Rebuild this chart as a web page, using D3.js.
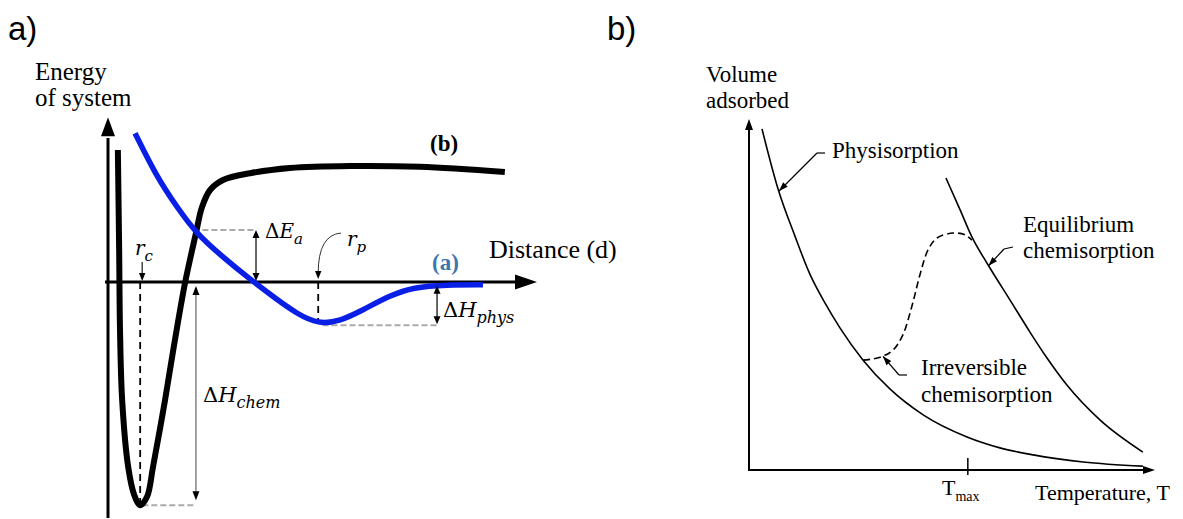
<!DOCTYPE html>
<html>
<head>
<meta charset="utf-8">
<script src="https://cdn.jsdelivr.net/npm/d3@7"></script>
<style>
  html, body { margin: 0; padding: 0; background: #fff; }
  svg { display: block; }
</style>
</head>
<body>
<svg id="chart" width="1183" height="519"></svg>
<script>
// ---------- Panel a: potential energy against distance ----------
// (b) chemisorption well
const chemDistance = [0.23, 0.26, 0.28, 0.33, 0.47, 0.61, 0.75, 0.91, 1.05, 1.33, 1.56, 1.80, 2.05, 2.19, 2.38, 2.68, 3.31, 4.24, 5.64, 7.27, 9.25];
const chemEnergy   = [3.30, 0.80, -1.20, -2.95, -4.62, -5.32, -5.58, -5.37, -4.62, -2.95, -1.45, 0.00, 1.22, 1.87, 2.30, 2.55, 2.72, 2.85, 2.90, 2.88, 2.75];
// (a) physisorption well
const physDistance = [0.63, 1.14, 1.61, 2.05, 2.68, 3.31, 3.89, 4.41, 4.90, 5.41, 5.94, 6.57, 7.11, 7.90, 8.74];
const physEnergy   = [3.72, 2.62, 1.87, 1.22, 0.62, 0.07, -0.40, -0.80, -1.05, -0.98, -0.70, -0.34, -0.13, -0.07, -0.07];
// characteristic points
const rC = 0.75, hChem = -5.58;          // chemisorption minimum
const rP = 4.90, hPhys = -1.08;          // physisorption minimum
const eA = 1.30;                         // activation level at the crossing
const eAarrowD = 3.45, hChemArrowD = 2.05, hPhysArrowD = 7.67, physTail = -0.07;

// ---------- Panel b: volume adsorbed against temperature ----------
const physT = [0.32, 0.71, 1.13, 1.50, 1.87, 2.24, 2.81, 3.47, 4.29, 5.37, 6.18, 7.00, 8.23, 9.70];
const physV = [9.72, 8.03, 6.67, 5.58, 4.76, 4.05, 3.13, 2.31, 1.57, 0.94, 0.63, 0.43, 0.23, 0.11];
const eqT   = [4.85, 5.20, 5.49, 5.89, 6.43, 6.92, 7.34, 7.83, 8.65, 9.70];
const eqV   = [8.32, 7.41, 6.64, 5.84, 4.84, 3.93, 3.19, 2.42, 1.42, 0.51];
const irrT  = [2.81, 3.23, 3.55, 3.79, 4.02, 4.21, 4.41, 4.63, 5.03, 5.32, 5.49];
const irrV  = [3.13, 3.21, 3.42, 3.85, 4.70, 5.56, 6.27, 6.61, 6.75, 6.70, 6.55];
const tMax = 5.39;

const svg = d3.select("#chart");
svg.append("rect").attr("width", 1183).attr("height", 519).attr("fill", "#fff");

const SERIF = "'Liberation Serif', 'Times New Roman', serif";
const MATH = "'DejaVu Serif', serif";
const SANS = "'Liberation Sans', Arial, sans-serif";

// filled triangular arrow head with its tip at `tip`, pointing away from `from`
function arrowHead(g, tip, from, len, hw, fill) {
  const dx = tip[0] - from[0], dy = tip[1] - from[1];
  const L = Math.hypot(dx, dy), ux = dx / L, uy = dy / L;
  const bx = tip[0] - ux * len, by = tip[1] - uy * len;
  const px = -uy, py = ux;
  g.append("path")
    .attr("d", `M${tip[0]},${tip[1]}L${bx + px * hw},${by + py * hw}L${bx - px * hw},${by - py * hw}Z`)
    .attr("fill", fill || "#000");
}

function segment(g, a, b, stroke, width, dash) {
  const s = g.append("line")
    .attr("x1", a[0]).attr("y1", a[1]).attr("x2", b[0]).attr("y2", b[1])
    .attr("stroke", stroke).attr("stroke-width", width);
  if (dash) s.attr("stroke-dasharray", dash);
  return s;
}

// text with a lowered subscript; parts: [text, italic?, sub?]
function mathText(g, x, y, parts, size, subSize, family) {
  const t = g.append("text").attr("x", x).attr("y", y)
    .attr("font-family", family || MATH).attr("font-size", size).attr("fill", "#000");
  let lowered = false;
  parts.forEach(([str, italic, sub]) => {
    const ts = t.append("tspan").text(str)
      .attr("font-style", italic ? "italic" : "normal");
    if (sub) {
      ts.attr("font-size", subSize);
      if (!lowered) { ts.attr("dy", size * 0.28); lowered = true; }
    }
  });
  return t;
}

function label(g, x, y, str, size, extra) {
  const t = g.append("text").attr("x", x).attr("y", y)
    .attr("font-family", SERIF).attr("font-size", size).text(str);
  if (extra) extra(t);
  return t;
}

// ================= Panel a =================
const gA = svg.append("g");
const xA = d3.scaleLinear().domain([0, 10]).range([108, 537]);
const yA = d3.scaleLinear().domain([-6, 4]).range([522, 122]);

gA.append("text").attr("x", 8).attr("y", 40)
  .attr("font-family", SANS).attr("font-size", 33).text("a)");
label(gA, 35, 80, "Energy", 25);
label(gA, 35, 106, "of system", 25);

// axes
segment(gA, [xA(0), yA(-5.9)], [xA(0), yA(3.6)], "#000", 3);
arrowHead(gA, [xA(0), yA(4.12)], [xA(0), yA(0)], 19, 7);
segment(gA, [xA(-0.07), yA(0)], [xA(9.6), yA(0)], "#000", 3);
arrowHead(gA, [xA(10), yA(0)], [xA(0), yA(0)], 22, 7.5);
label(gA, 489, 258, "Distance (d)", 26);

// helper lines behind the curves
segment(gA, [xA(2.2), yA(eA)], [xA(eAarrowD - 0.05), yA(eA)], "#aaa", 2, "6,3");
segment(gA, [xA(rC + 0.05), yA(hChem)], [xA(hChemArrowD - 0.05), yA(hChem)], "#aaa", 2, "6,3");
segment(gA, [xA(rP + 0.1), yA(hPhys)], [xA(hPhysArrowD), yA(hPhys)], "#aaa", 2, "6,3");
segment(gA, [xA(rC), yA(0)], [xA(rC), yA(hChem) - 3], "#000", 1.8, "7,5");
segment(gA, [xA(rP), yA(0)], [xA(rP), yA(hPhys) - 3], "#000", 1.8, "7,5");

const chemLine = d3.line().curve(d3.curveCatmullRom.alpha(0.5));
const smoothLine = d3.line().curve(d3.curveMonotoneX);
gA.append("path")
  .attr("d", chemLine(chemDistance.map((d, i) => [xA(d), yA(chemEnergy[i])])))
  .attr("fill", "none").attr("stroke", "#000").attr("stroke-width", 6)
  .attr("stroke-linejoin", "round");
gA.append("path")
  .attr("d", d3.line().curve(d3.curveBasis)(physDistance.map((d, i) => [xA(d), yA(physEnergy[i])])))
  .attr("fill", "none").attr("stroke", "#0a1fe6").attr("stroke-width", 5.5)
  .attr("stroke-linejoin", "round");

// ΔE_a double arrow
{
  const x = xA(eAarrowD), top = yA(eA), bot = yA(0) - 1;
  segment(gA, [x, top + 6], [x, bot - 6], "#000", 1.2);
  arrowHead(gA, [x, top], [x, bot], 8, 3.5);
  arrowHead(gA, [x, bot], [x, top], 8, 3.5);
  mathText(gA, 265, 238, [["Δ", false], ["E", true], ["a", true, true]], 20, 15);
}
// ΔH_chem double arrow
{
  const x = xA(hChemArrowD), top = yA(0) + 4, bot = yA(hChem) - 5;
  segment(gA, [x, top + 6], [x, bot - 6], "#444", 1);
  arrowHead(gA, [x, top], [x, bot], 9, 3.5);
  arrowHead(gA, [x, bot], [x, top], 9, 3.5);
  mathText(gA, 203, 402, [["Δ", false], ["H", true], ["chem", true, true]], 21, 16);
}
// ΔH_phys double arrow
{
  const x = xA(hPhysArrowD), top = yA(physTail) + 1, bot = yA(hPhys) - 1;
  segment(gA, [x, top + 6], [x, bot - 6], "#000", 1.2);
  arrowHead(gA, [x, top], [x, bot], 8, 3.5);
  arrowHead(gA, [x, bot], [x, top], 8, 3.5);
  mathText(gA, 443, 317, [["Δ", false], ["H", true], ["phys", true, true]], 21, 16);
}
// r_c marker
{
  const x = xA(rC) + 2;
  segment(gA, [x, 262], [x, yA(0) - 7], "#000", 1.1);
  arrowHead(gA, [x, yA(0) - 1], [x, 262], 8, 3.2);
  mathText(gA, 135, 255, [["r", true], ["c", true, true]], 20, 15);
}
// r_p marker with curved leader
{
  const x = xA(rP), tipY = yA(0) - 3;
  const p = d3.path();
  p.moveTo(341, 233);
  p.quadraticCurveTo(x, 235, x, tipY - 6);
  gA.append("path").attr("d", p.toString()).attr("fill", "none")
    .attr("stroke", "#333").attr("stroke-width", 1);
  arrowHead(gA, [x, tipY], [x, tipY - 10], 8, 3.2);
  mathText(gA, 347, 246, [["r", true], ["p", true, true]], 20, 15);
}
label(gA, 430, 151, "(b)", 23, t => t.attr("font-weight", "bold"));
label(gA, 432, 270, "(a)", 23, t => t.attr("font-weight", "bold").attr("fill", "#3b76ae"));

// ================= Panel b =================
const gB = svg.append("g");
const xB = d3.scaleLinear().domain([0, 10]).range([749, 1155]);
const yB = d3.scaleLinear().domain([0, 10]).range([470, 119]);

gB.append("text").attr("x", 607).attr("y", 40)
  .attr("font-family", SANS).attr("font-size", 33).text("b)");
label(gB, 706, 82, "Volume", 23);
label(gB, 706, 108, "adsorbed", 23);

// axes
segment(gB, [xB(0), yB(0)], [xB(0), yB(9.75)], "#000", 2);
arrowHead(gB, [xB(0), yB(10)], [xB(0), yB(0)], 11, 4);
segment(gB, [xB(0) - 1, yB(0)], [xB(9.75), yB(0)], "#000", 2);
arrowHead(gB, [xB(10), yB(0)], [xB(0), yB(0)], 12, 4);
// T_max tick
segment(gB, [xB(tMax), yB(0) - 12], [xB(tMax), yB(0) + 5], "#000", 1.5);
mathText(gB, 942, 495, [["T", false], ["max", false, true]], 22, 14, SERIF);
label(gB, 1035, 500, "Temperature, T", 22);

gB.append("path")
  .attr("d", smoothLine(physT.map((t, i) => [xB(t), yB(physV[i])])))
  .attr("fill", "none").attr("stroke", "#000").attr("stroke-width", 1.6);
gB.append("path")
  .attr("d", smoothLine(eqT.map((t, i) => [xB(t), yB(eqV[i])])))
  .attr("fill", "none").attr("stroke", "#000").attr("stroke-width", 1.6);
gB.append("path")
  .attr("d", d3.line().curve(d3.curveCatmullRom.alpha(0.5))(irrT.map((t, i) => [xB(t), yB(irrV[i])])))
  .attr("fill", "none").attr("stroke", "#000").attr("stroke-width", 1.6)
  .attr("stroke-dasharray", "7,4");

// leader arrows and labels
function leader(g, tip, elbow, end) {
  segment(g, end, elbow, "#000", 1.2);
  segment(g, elbow, tip, "#000", 1.2);
  arrowHead(g, tip, elbow, 9, 3.2);
}
leader(gB, [xB(0.74), yB(7.95)], [817, 153], [825, 153]);
label(gB, 832, 158, "Physisorption", 23);

leader(gB, [xB(5.9), yB(5.82)], [1004, 249], [1013, 247]);
label(gB, 1023, 232, "Equilibrium", 23);
label(gB, 1023, 258, "chemisorption", 23);

leader(gB, [xB(3.3), yB(3.24)], [899, 375], [907, 375]);
label(gB, 921, 375, "Irreversible", 23);
label(gB, 921, 402, "chemisorption", 23);
</script>
</body>
</html>
